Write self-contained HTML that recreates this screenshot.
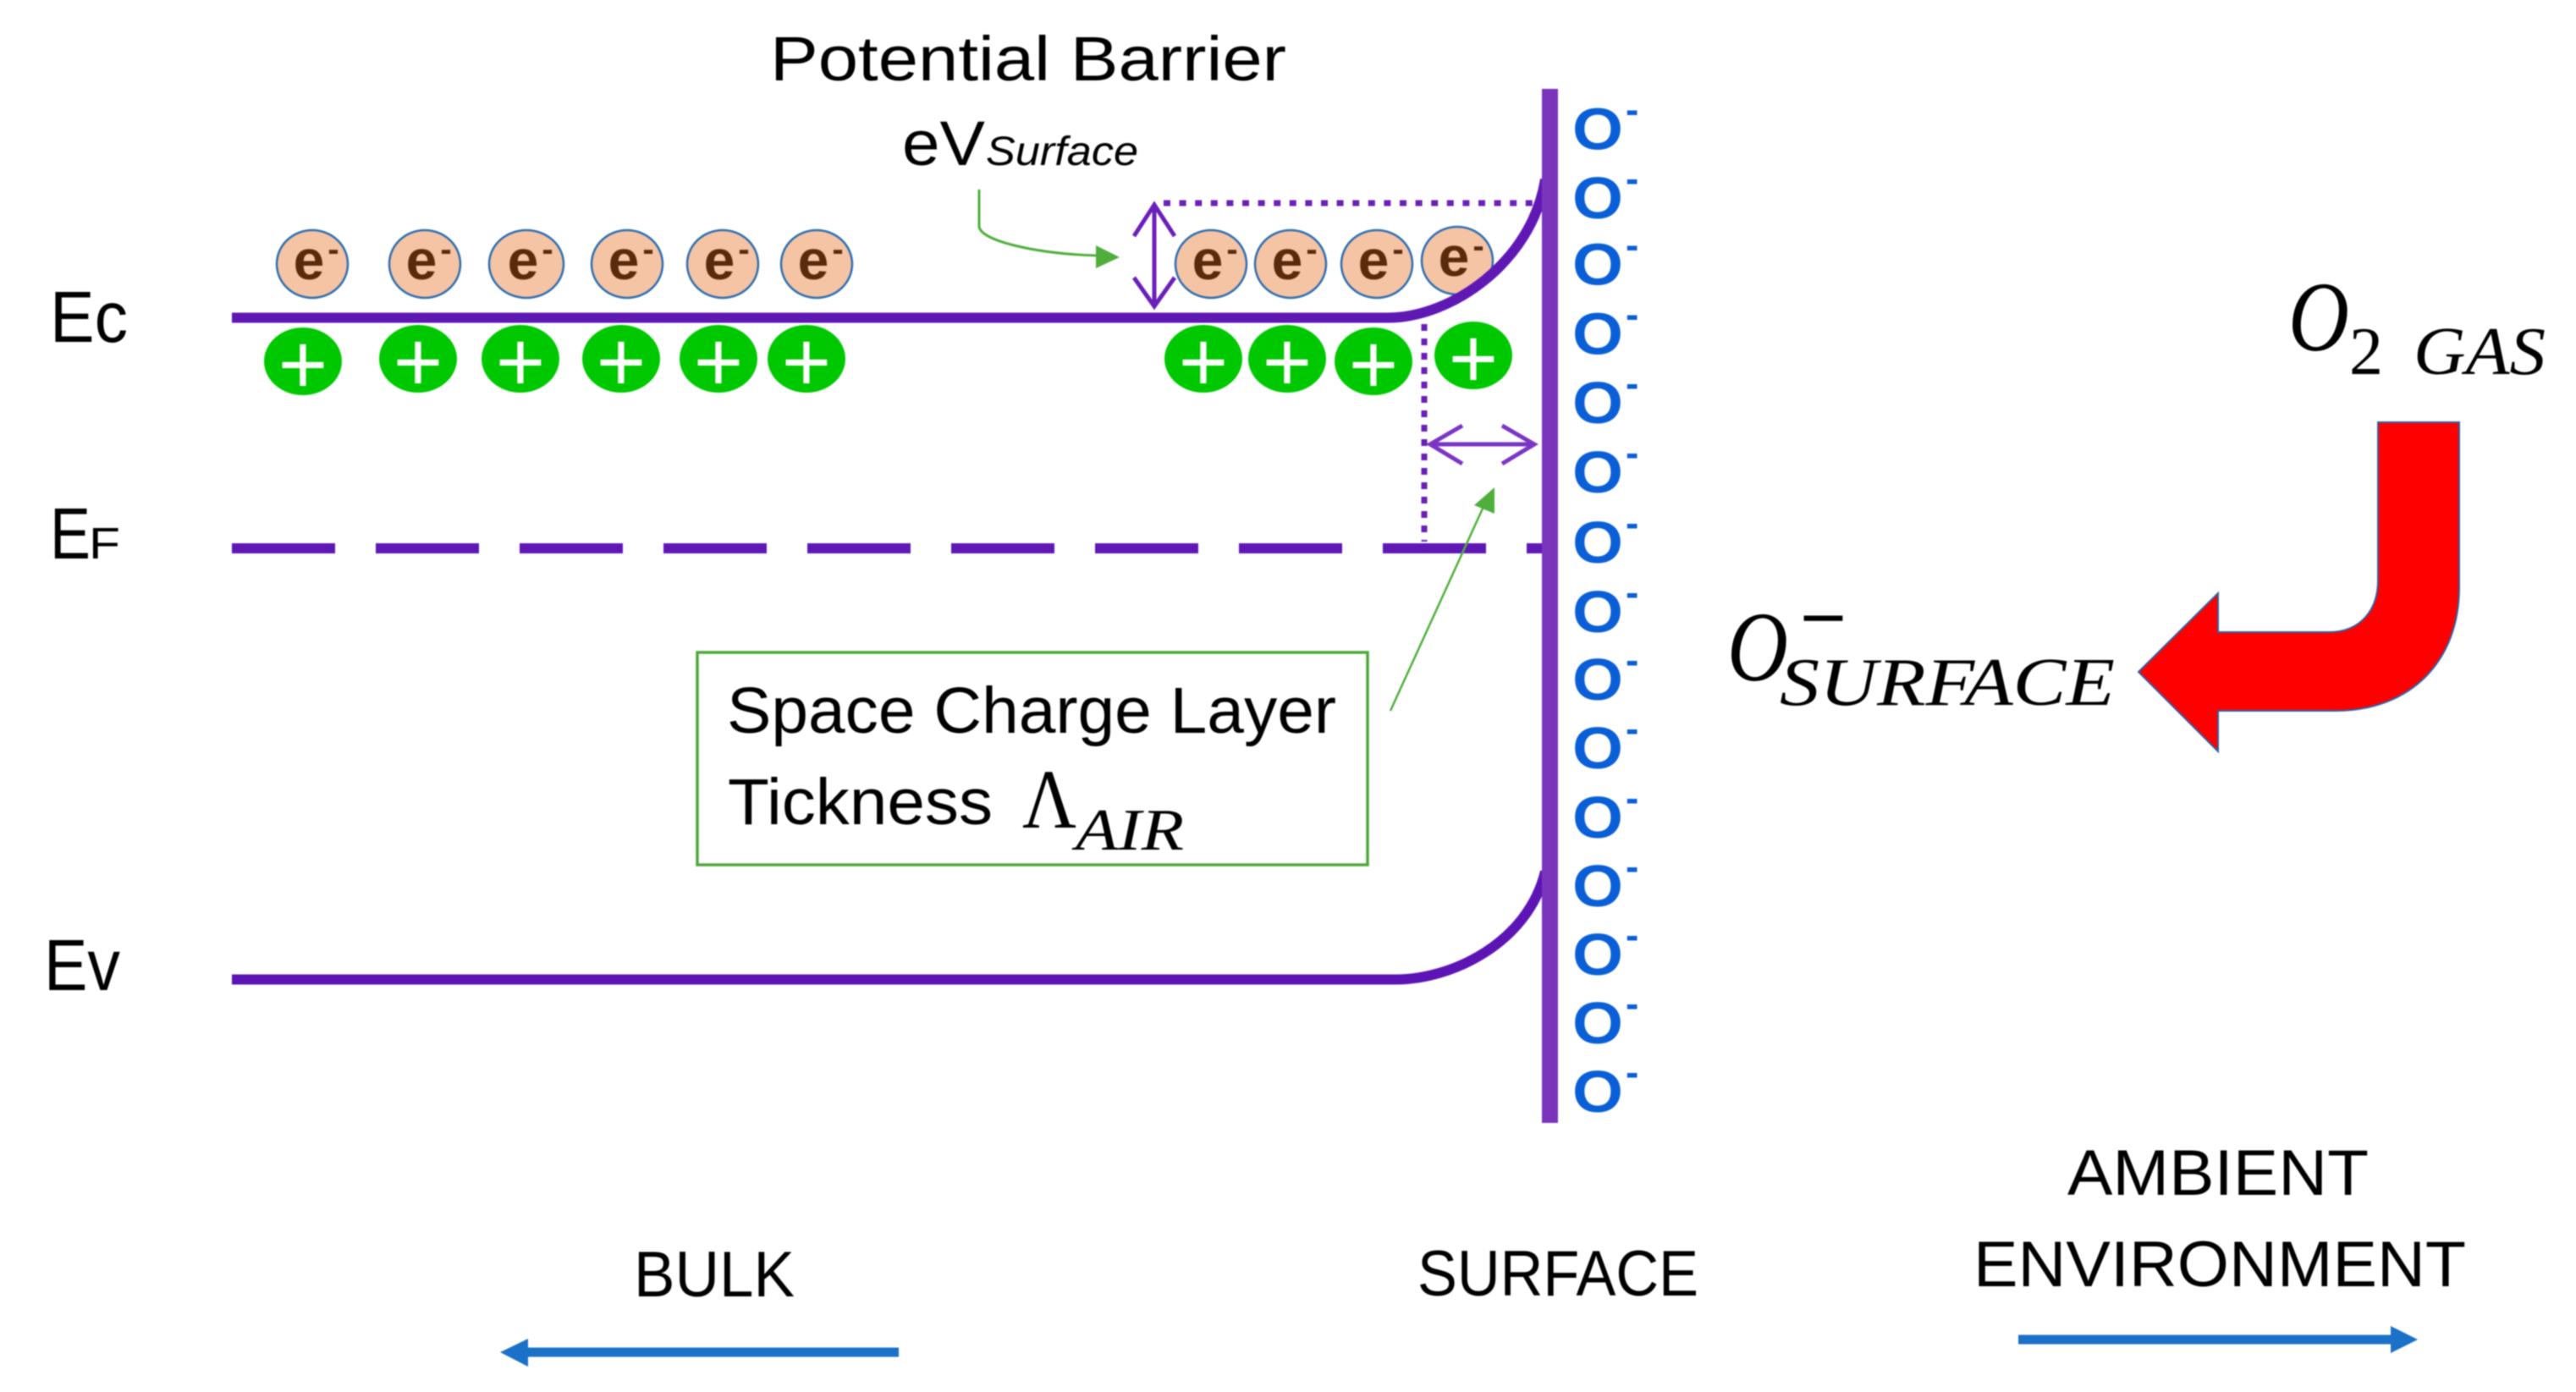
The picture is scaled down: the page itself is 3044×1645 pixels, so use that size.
<!DOCTYPE html>
<html><head><meta charset="utf-8"><style>
html,body{margin:0;padding:0;background:#fff}
svg{display:block}
text{font-family:"Liberation Sans",sans-serif;fill:#000}
.m{font-family:"Liberation Serif",serif;font-style:italic}
.e{font-weight:bold;font-size:66px;fill:#5a2a0c;text-anchor:middle}
.d{font-weight:bold;font-size:40px;fill:#5a2a0c;text-anchor:middle}
.p{font-size:100px;fill:#fff;text-anchor:middle}
.o{font-weight:bold;font-size:70px;fill:#0a5fd6}
.h{font-weight:bold;font-size:46px;fill:#0a5fd6}
.el{fill:#f4c4a4;stroke:#2f6db0;stroke-width:2.5}
.pl{fill:#00c800}
</style></head><body>
<svg xmlns="http://www.w3.org/2000/svg" width="3044" height="1645" viewBox="0 0 3044 1645">
<rect width="3044" height="1645" fill="#fff"/>
<g style="filter:blur(0.9px)">
<!-- electrons -->
<g transform="translate(369,312)"><ellipse class="el" rx="42" ry="40"/><text class="e" x="-4" y="18">e</text><text class="d" x="25" y="-4">-</text></g>
<g transform="translate(502,312)"><ellipse class="el" rx="42" ry="40"/><text class="e" x="-4" y="18">e</text><text class="d" x="25" y="-4">-</text></g>
<g transform="translate(622,312)"><ellipse class="el" rx="44" ry="40"/><text class="e" x="-4" y="18">e</text><text class="d" x="25" y="-4">-</text></g>
<g transform="translate(741,312)"><ellipse class="el" rx="42" ry="40"/><text class="e" x="-4" y="18">e</text><text class="d" x="25" y="-4">-</text></g>
<g transform="translate(854,312)"><ellipse class="el" rx="42" ry="40"/><text class="e" x="-4" y="18">e</text><text class="d" x="25" y="-4">-</text></g>
<g transform="translate(965,312)"><ellipse class="el" rx="42" ry="40"/><text class="e" x="-4" y="18">e</text><text class="d" x="25" y="-4">-</text></g>
<g transform="translate(1431,312)"><ellipse class="el" rx="42" ry="40"/><text class="e" x="-4" y="18">e</text><text class="d" x="25" y="-4">-</text></g>
<g transform="translate(1525,312)"><ellipse class="el" rx="42" ry="40"/><text class="e" x="-4" y="18">e</text><text class="d" x="25" y="-4">-</text></g>
<g transform="translate(1627,312)"><ellipse class="el" rx="42" ry="40"/><text class="e" x="-4" y="18">e</text><text class="d" x="25" y="-4">-</text></g>
<g transform="translate(1722,308)"><ellipse class="el" rx="42" ry="40"/><text class="e" x="-4" y="18">e</text><text class="d" x="25" y="-4">-</text></g>

<!-- dotted guides -->
<path d="M1375 240H1815" fill="none" stroke="#6a1fb8" stroke-width="7" stroke-dasharray="8 10.6"/>
<path d="M1683 383V640" fill="none" stroke="#6a1fb8" stroke-width="7" stroke-dasharray="8 9"/>

<!-- band lines -->
<path d="M274 375.5H1640C1715 375.5 1810 310 1826 212" fill="none" stroke="#6018b4" stroke-width="12"/>
<path d="M274 648H1825" fill="none" stroke="#6018b4" stroke-width="12" stroke-dasharray="122 48"/>
<path d="M274 1157.5H1650C1715 1157.5 1805 1115 1826 1030" fill="none" stroke="#5d14b4" stroke-width="12"/>
<rect x="1822" y="105" width="19" height="1222" fill="#7b35bd"/>

<!-- holes -->
<g transform="translate(358,427)"><ellipse class="pl" rx="46" ry="40"/><text class="p" y="38">+</text></g>
<g transform="translate(494,424)"><ellipse class="pl" rx="46" ry="40"/><text class="p" y="38">+</text></g>
<g transform="translate(615,424)"><ellipse class="pl" rx="46" ry="40"/><text class="p" y="38">+</text></g>
<g transform="translate(734,424)"><ellipse class="pl" rx="46" ry="40"/><text class="p" y="38">+</text></g>
<g transform="translate(849,424)"><ellipse class="pl" rx="46" ry="40"/><text class="p" y="38">+</text></g>
<g transform="translate(953,424)"><ellipse class="pl" rx="46" ry="40"/><text class="p" y="38">+</text></g>
<g transform="translate(1422,424)"><ellipse class="pl" rx="46" ry="40"/><text class="p" y="38">+</text></g>
<g transform="translate(1521,424)"><ellipse class="pl" rx="46" ry="40"/><text class="p" y="38">+</text></g>
<g transform="translate(1623,427)"><ellipse class="pl" rx="46" ry="40"/><text class="p" y="38">+</text></g>
<g transform="translate(1741,420)"><ellipse class="pl" rx="46" ry="40"/><text class="p" y="38">+</text></g>

<!-- double arrows -->
<path d="M1364 242V362M1340 279L1364 242L1388 279M1340 328L1364 362L1388 328" fill="none" stroke="#6a1fb8" stroke-width="5"/>
<path d="M1690 525H1813M1728 503L1690 525L1728 548M1775 503L1813 525L1775 548" fill="none" stroke="#7a35c4" stroke-width="5"/>

<!-- green callouts -->
<path d="M1157 224V268C1160 285 1225 300 1297 302" fill="none" stroke="#4fae3c" stroke-width="3"/>
<path d="M1295 290L1323 304L1295 317Z" fill="#4fae3c"/>
<path d="M1643 840L1757 590" fill="none" stroke="#4fae3c" stroke-width="2.5"/>
<path d="M1766 576L1742 597L1766 607Z" fill="#4fae3c"/>
<rect x="824" y="771" width="792" height="251" fill="none" stroke="#4ea83c" stroke-width="3.5"/>

<!-- red bent arrow -->
<path d="M2810 499H2906V694C2906 780 2850 840 2759 840H2621V888L2527 794L2621 701V747H2752C2790 747 2810 720 2810 686Z" fill="#ff0000" stroke="#2f5f9e" stroke-width="2"/>

<!-- blue direction arrows -->
<path d="M1062 1592.5V1603.5H624V1615L591 1598L624 1582V1592.5Z" fill="#1b70c8"/>
<path d="M2385 1577.5V1588.5H2825V1599L2857 1583L2825 1567V1577.5Z" fill="#1b70c8"/>

<!-- oxygen ions -->
<g transform="translate(0,151.5)"><text class="o" x="1858" y="25" textLength="60" lengthAdjust="spacingAndGlyphs">O</text><text class="h" x="1921" y="-6">-</text></g>
<g transform="translate(0,233)"><text class="o" x="1858" y="25" textLength="60" lengthAdjust="spacingAndGlyphs">O</text><text class="h" x="1921" y="-6">-</text></g>
<g transform="translate(0,311.5)"><text class="o" x="1858" y="25" textLength="60" lengthAdjust="spacingAndGlyphs">O</text><text class="h" x="1921" y="-6">-</text></g>
<g transform="translate(0,393.5)"><text class="o" x="1858" y="25" textLength="60" lengthAdjust="spacingAndGlyphs">O</text><text class="h" x="1921" y="-6">-</text></g>
<g transform="translate(0,475)"><text class="o" x="1858" y="25" textLength="60" lengthAdjust="spacingAndGlyphs">O</text><text class="h" x="1921" y="-6">-</text></g>
<g transform="translate(0,557)"><text class="o" x="1858" y="25" textLength="60" lengthAdjust="spacingAndGlyphs">O</text><text class="h" x="1921" y="-6">-</text></g>
<g transform="translate(0,640)"><text class="o" x="1858" y="25" textLength="60" lengthAdjust="spacingAndGlyphs">O</text><text class="h" x="1921" y="-6">-</text></g>
<g transform="translate(0,722)"><text class="o" x="1858" y="25" textLength="60" lengthAdjust="spacingAndGlyphs">O</text><text class="h" x="1921" y="-6">-</text></g>
<g transform="translate(0,802)"><text class="o" x="1858" y="25" textLength="60" lengthAdjust="spacingAndGlyphs">O</text><text class="h" x="1921" y="-6">-</text></g>
<g transform="translate(0,883)"><text class="o" x="1858" y="25" textLength="60" lengthAdjust="spacingAndGlyphs">O</text><text class="h" x="1921" y="-6">-</text></g>
<g transform="translate(0,965)"><text class="o" x="1858" y="25" textLength="60" lengthAdjust="spacingAndGlyphs">O</text><text class="h" x="1921" y="-6">-</text></g>
<g transform="translate(0,1046)"><text class="o" x="1858" y="25" textLength="60" lengthAdjust="spacingAndGlyphs">O</text><text class="h" x="1921" y="-6">-</text></g>
<g transform="translate(0,1127)"><text class="o" x="1858" y="25" textLength="60" lengthAdjust="spacingAndGlyphs">O</text><text class="h" x="1921" y="-6">-</text></g>
<g transform="translate(0,1208)"><text class="o" x="1858" y="25" textLength="60" lengthAdjust="spacingAndGlyphs">O</text><text class="h" x="1921" y="-6">-</text></g>
<g transform="translate(0,1289)"><text class="o" x="1858" y="25" textLength="60" lengthAdjust="spacingAndGlyphs">O</text><text class="h" x="1921" y="-6">-</text></g>

<!-- labels -->
<text x="910" y="95" font-size="74" textLength="610" lengthAdjust="spacingAndGlyphs">Potential Barrier</text>
<text x="1066" y="195" font-size="74" textLength="98" lengthAdjust="spacingAndGlyphs">eV</text>
<text x="1165" y="195" font-size="48" font-style="italic" textLength="180" lengthAdjust="spacingAndGlyphs">Surface</text>
<text x="59" y="404" font-size="85" textLength="92" lengthAdjust="spacingAndGlyphs">Ec</text>
<text x="59" y="660" font-size="85" textLength="48" lengthAdjust="spacingAndGlyphs">E</text>
<text x="105" y="660" font-size="52" textLength="37" lengthAdjust="spacingAndGlyphs">F</text>
<text x="52" y="1170" font-size="85" textLength="90" lengthAdjust="spacingAndGlyphs">Ev</text>
<text x="859" y="866" font-size="77" textLength="720" lengthAdjust="spacingAndGlyphs">Space Charge Layer</text>
<text x="860" y="974" font-size="77" textLength="313" lengthAdjust="spacingAndGlyphs">Tickness</text>
<text class="m" x="1208" y="978" font-size="100" style="font-style:normal" textLength="64" lengthAdjust="spacingAndGlyphs">Λ</text>
<text class="m" x="1271" y="1004" font-size="70" textLength="128" lengthAdjust="spacingAndGlyphs">AIR</text>
<text x="749" y="1532" font-size="76" textLength="190" lengthAdjust="spacingAndGlyphs">BULK</text>
<text x="1675" y="1531" font-size="76" textLength="332" lengthAdjust="spacingAndGlyphs">SURFACE</text>
<text x="2443" y="1412" font-size="76" textLength="356" lengthAdjust="spacingAndGlyphs">AMBIENT</text>
<text x="2332" y="1520" font-size="76" textLength="582" lengthAdjust="spacingAndGlyphs">ENVIRONMENT</text>
<text class="m" x="2704" y="414" font-size="118" textLength="72" lengthAdjust="spacingAndGlyphs">O</text>
<text class="m" x="2776" y="442" font-size="80" style="font-style:normal" textLength="40" lengthAdjust="spacingAndGlyphs">2</text>
<text class="m" x="2852" y="442" font-size="80" textLength="156" lengthAdjust="spacingAndGlyphs">GAS</text>
<text class="m" x="2041" y="804" font-size="118" textLength="72" lengthAdjust="spacingAndGlyphs">O</text>
<text x="2127" y="760" font-size="88" textLength="55" lengthAdjust="spacingAndGlyphs">−</text>
<text class="m" x="2103" y="833" font-size="80" textLength="396" lengthAdjust="spacingAndGlyphs">SURFACE</text>
</g>
</svg>
</body></html>
